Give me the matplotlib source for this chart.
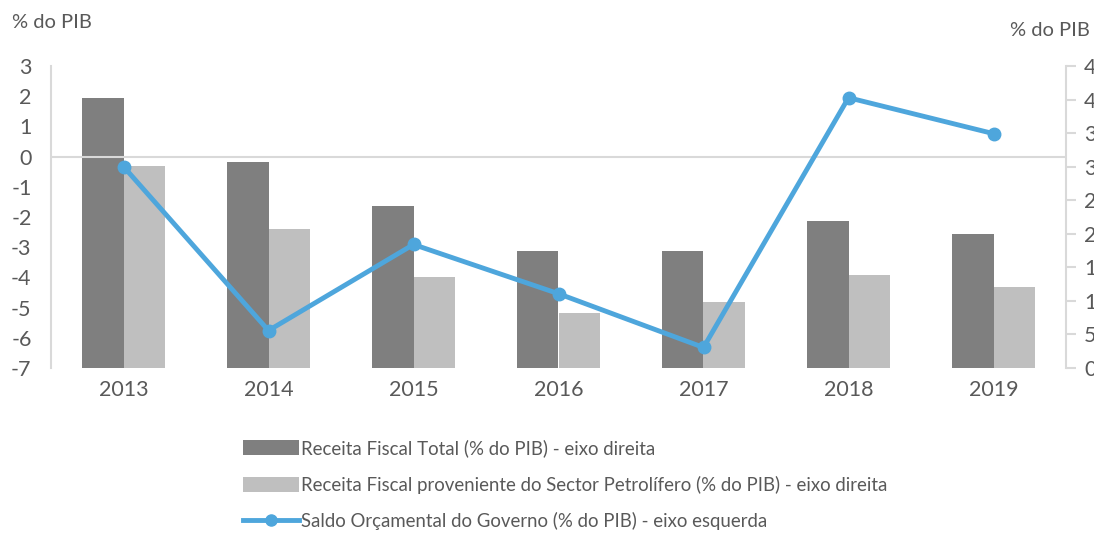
import matplotlib
matplotlib.use("Agg")
import matplotlib.pyplot as plt
from matplotlib.lines import Line2D
from matplotlib.patches import Patch
import numpy as np

plt.rcParams['font.family'] = ['Lato', 'DejaVu Sans']

years = ['2013', '2014', '2015', '2016', '2017', '2018', '2019']
receita_total = [40.2, 30.7, 24.1, 17.4, 17.4, 21.9, 20.0]
receita_petrolifera = [30.1, 20.7, 13.6, 8.2, 9.8, 13.9, 12.1]
saldo_orcamental = [-0.33, -5.76, -2.91, -4.54, -6.32, 1.95, 0.76]

left_ticks = list(range(-7, 4))
right_ticks = list(range(0, 50, 5))

label_total = 'Receita Fiscal Total (% do PIB) - eixo direita'
label_petro = 'Receita Fiscal proveniente do Sector Petrolífero (% do PIB) - eixo direita'
label_saldo = 'Saldo Orçamental do Governo (% do PIB) - eixo esquerda'

text_color = '#595959'
axis_color = '#D9D9D9'
dark_bar = '#7F7F7F'
light_bar = '#BFBFBF'
line_blue = '#4EA6DC'

fig = plt.figure(figsize=(10.94, 5.34), dpi=100)
axL = fig.add_axes([51 / 1094, 1 - 368 / 534, (1066 - 51) / 1094, (368 - 66) / 534])
axR = axL.twinx()

x = np.arange(len(years))
w = 0.283
axR.bar(x - w / 2, receita_total, width=w, color=dark_bar, label=label_total)
axR.bar(x + w / 2, receita_petrolifera, width=w, color=light_bar, label=label_petro)
axR.set_ylim(0, 45)
axR.set_yticks(right_ticks)
axR.set_yticklabels([str(t) for t in right_ticks])

axL.set_zorder(axR.get_zorder() + 1)
axL.patch.set_visible(False)
axL.axhline(0, color=axis_color, lw=1.5, zorder=1)
axL.plot(x, saldo_orcamental, color=line_blue, lw=3.5, marker='o', markersize=9,
         zorder=3, solid_capstyle='round')
axL.set_ylim(-7, 3)
axL.set_yticks(left_ticks)
axL.set_yticklabels([str(t) for t in left_ticks])
axL.set_xlim(-0.5, len(years) - 0.5)
axL.set_xticks(x)
axL.set_xticklabels(years)

for ax in (axL, axR):
    for s in ('top', 'bottom'):
        ax.spines[s].set_visible(False)
    ax.tick_params(colors=text_color, labelsize=15.5)
    ax.spines['left'].set_color(axis_color)
    ax.spines['right'].set_color(axis_color)
    ax.spines['left'].set_linewidth(1.5)
    ax.spines['right'].set_linewidth(1.5)

axL.spines['right'].set_visible(False)
axR.spines['left'].set_visible(False)
axL.tick_params(axis='y', length=0, pad=14)
axL.tick_params(axis='x', length=0, pad=9)
axR.tick_params(axis='y', length=7, width=1.5, color=axis_color, pad=6)

fig.text(12 / 1094, 1 - 22 / 534, '% do PIB', fontsize=14.5, color=text_color,
         ha='left', va='center')
fig.text(1010 / 1094, 1 - 30 / 534, '% do PIB', fontsize=14.5, color=text_color,
         ha='left', va='center')

handles = [
    Patch(facecolor=dark_bar, edgecolor='none'),
    Patch(facecolor=light_bar, edgecolor='none'),
    Line2D([0], [0], color=line_blue, lw=3.5, marker='o', markersize=8),
]
fig.legend(handles, [label_total, label_petro, label_saldo],
           loc='upper left', bbox_to_anchor=(236 / 1094, 1 - 432 / 534),
           frameon=False, fontsize=13.4, labelcolor=text_color,
           handlelength=3.0, handleheight=0.85, handletextpad=0.1,
           labelspacing=0.98, borderaxespad=0)

fig.savefig('out.png', dpi=100)
